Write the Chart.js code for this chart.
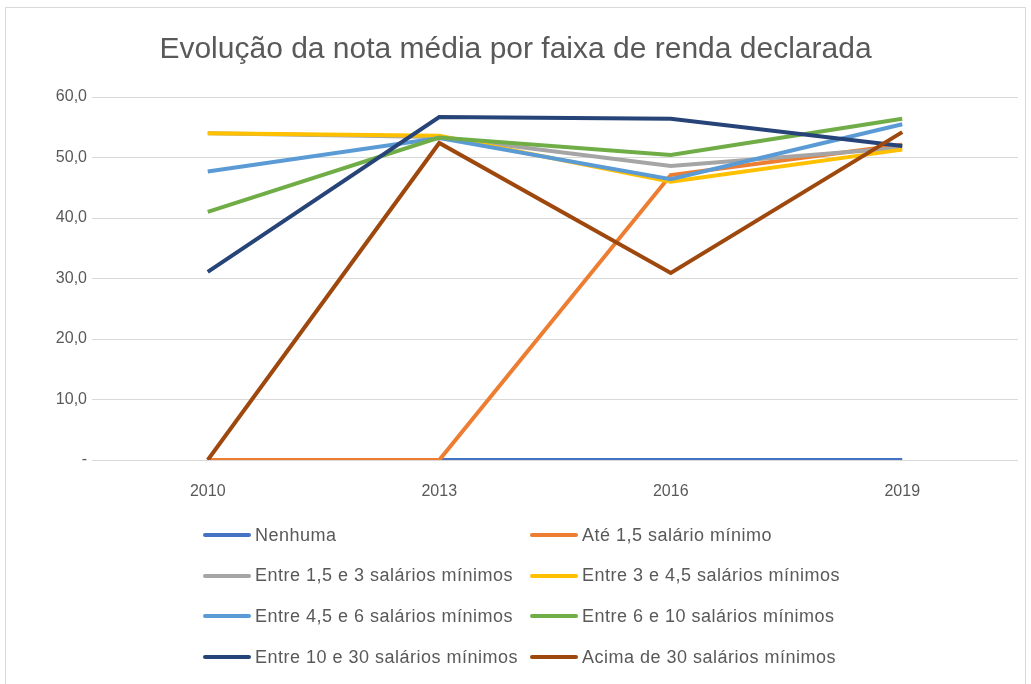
<!DOCTYPE html>
<html lang="pt">
<head>
    <meta charset="UTF-8">
    <title>Evolução da nota média</title>
    <style>
        body {
            margin: 0;
            width: 1031px;
            height: 684px;
            background: #fff;
            font-family: 'Liberation Sans', sans-serif;
            color: #595959;
            overflow: hidden;
        }
        #frame {
            position: absolute;
            left: 5px;
            top: 7px;
            width: 1019px;
            height: 690px;
            border: 1px solid #d9d9d9;
        }
        #chartBox {
            position: absolute;
            left: 0;
            top: 0;
            width: 1031px;
            height: 684px;
        }
        #title {
            position: absolute;
            left: 0;
            width: 1031px;
            top: 31px;
            text-align: center;
            font-size: 30px;
            color: #595959;
        }
        #legend {
            position: absolute;
            left: 203px;
            top: 524px;
            display: grid;
            grid-template-columns: 327px 330px;
            grid-auto-rows: 40.7px;
            font-size: 18px;
            letter-spacing: 0.5px;
        }
        .item {
            display: flex;
            align-items: center;
            height: 22px;
            white-space: nowrap;
        }
        .swatch {
            width: 48px;
            height: 4px;
            border-radius: 2px;
            margin-right: 4px;
        }
    </style>
    <script src="https://cdn.jsdelivr.net/npm/chart.js"></script>
</head>
<body>
    <div id="frame"></div>
    <div id="chartBox"><canvas id="rendaChart" width="1031" height="684"></canvas></div>
    <div id="title">Evolução da nota média por faixa de renda declarada</div>
    <div id="legend"></div>
    <script>
        const anos = ['2010', '2013', '2016', '2019'];

        const faixas = [
            'Nenhuma',
            'Até 1,5 salário mínimo',
            'Entre 1,5 e 3 salários mínimos',
            'Entre 3 e 4,5 salários mínimos',
            'Entre 4,5 e 6 salários mínimos',
            'Entre 6 e 10 salários mínimos',
            'Entre 10 e 30 salários mínimos',
            'Acima de 30 salários mínimos'
        ];

        const cores = ['#4472C4', '#ED7D31', '#A5A5A5', '#FFC000', '#5B9BD5', '#70AD47', '#264478', '#9E480E'];

        // notas médias por faixa
        const nenhuma = [0, 0, 0, 0];
        const ate15 = [0, 0, 47.1, 52.1];
        const entre15e3 = [54.0, 53.4, 48.6, 51.6];
        const entre3e45 = [54.0, 53.6, 46.0, 51.3];
        const entre45e6 = [47.7, 53.2, 46.4, 55.5];
        const entre6e10 = [41.0, 53.3, 50.4, 56.4];
        const entre10e30 = [31.1, 56.7, 56.4, 51.9];
        const acima30 = [0, 52.4, 30.9, 54.2];

        const series = [nenhuma, ate15, entre15e3, entre3e45, entre45e6, entre6e10, entre10e30, acima30];

        const datasets = series.map((valores, i) => ({
            label: faixas[i],
            data: valores,
            borderColor: cores[i],
            backgroundColor: cores[i],
            borderWidth: 4,
            pointRadius: 0,
            tension: 0,
            // last series on top, like Excel
            order: series.length - i
        }));

        const tickFont = { size: 16, family: 'Liberation Sans' };

        const ctx = document.getElementById('rendaChart').getContext('2d');
        const rendaChart = new Chart(ctx, {
            type: 'line',
            data: { labels: anos, datasets: datasets },
            options: {
                responsive: false,
                animation: false,
                layout: { padding: { top: 97, right: 13, bottom: 174, left: 0 } },
                plugins: {
                    legend: { display: false },
                    title: { display: false },
                    tooltip: { enabled: false }
                },
                scales: {
                    x: {
                        offset: true,
                        grid: { display: false },
                        border: { display: false },
                        ticks: { color: '#595959', font: tickFont, padding: 14 },
                        afterFit: (scale) => { scale.height = 50; }
                    },
                    y: {
                        min: 0,
                        max: 60,
                        ticks: {
                            stepSize: 10,
                            color: '#595959',
                            font: tickFont,
                            padding: 5,
                            callback: (v) => v === 0 ? '-' : v.toFixed(1).replace('.', ',')
                        },
                        grid: { color: '#d9d9d9', lineWidth: 1, drawTicks: false },
                        border: { display: false },
                        afterFit: (scale) => { scale.width = 92; }
                    }
                }
            }
        });

        // legenda em duas colunas
        const legend = document.getElementById('legend');
        faixas.forEach((nome, i) => {
            legend.innerHTML += `<div class="item"><span class="swatch" style="background:${cores[i]}"></span>${nome}</div>`;
        });
    </script>
</body>
</html>
